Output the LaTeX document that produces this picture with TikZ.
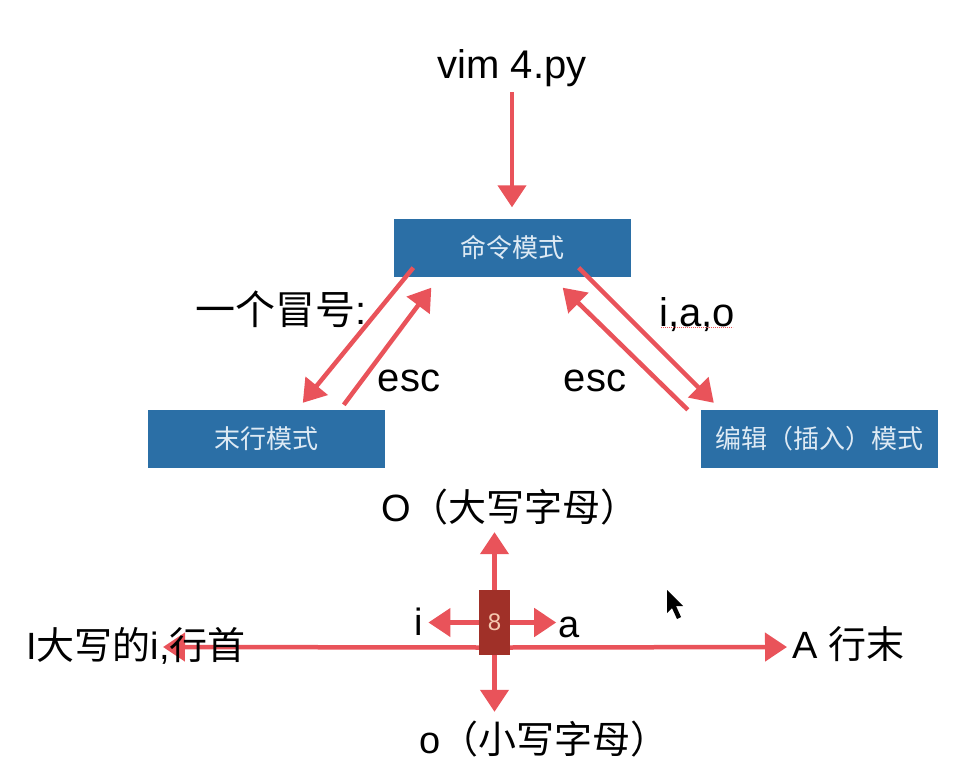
\documentclass[tikz,border=0pt]{standalone}
\usepackage{fontspec}
\setmainfont{Liberation Sans}
\newfontfamily\cjk{Noto Sans CJK SC}
\usetikzlibrary{arrows.meta,calc,backgrounds}

\definecolor{boxblue}{RGB}{43,111,166}
\definecolor{boxtext}{RGB}{222,234,244}
\definecolor{arrowred}{RGB}{233,83,90}
\definecolor{keyred}{RGB}{160,48,40}
\definecolor{keytext}{RGB}{245,200,175}

\begin{document}
\begin{tikzpicture}[x=1pt,y=-1pt,
    modebox/.style={fill=boxblue, text=boxtext, minimum width=237pt, minimum height=58pt,
        inner sep=0pt, font=\cjk\fontsize{26}{30}\selectfont},
    keybox/.style={fill=keyred, text=keytext, minimum width=31pt, minimum height=65pt,
        inner sep=0pt, font=\fontsize{24}{28}\selectfont},
    redarrow/.style={draw=arrowred, line width=4.5pt, -{Triangle[width=28pt,length=22pt]}},
    lbl/.style={inner sep=0pt, text height=31pt, text depth=9pt, font=\fontsize{40}{48}\selectfont},
    sublbl/.style={inner sep=0pt, text height=30pt, text depth=8pt, font=\fontsize{38}{46}\selectfont}]
    \useasboundingbox (0,0) rectangle (978,784);

    % Modes
    \node[lbl] (vim) at (512,68) {vim 4.py};
    \node[modebox] (cmd) at (512,247.5) {命令模式};
    \node[modebox] (last) at (266.5,439) {末行模式};
    \node[modebox] (edit) at (819.5,439) {编辑（插入）模式};

    % Labels between the modes
    \node[lbl] (colon) at (281,313) {{\cjk 一个冒号}:};
    \node[lbl] (escl) at (409,380) {esc};
    \node[lbl] (escr) at (595,380) {esc};
    \node[lbl] (iao) at (697,315) {i,a,o};
    \draw[arrowred, densely dotted, line width=1pt] ($(iao.south west)+(2,-8)$) -- ($(iao.south east)+(-2,-8)$); % spell-check underline

    % Arrows between the modes
    \draw[redarrow, shorten <=4pt, shorten >=11pt] (vim.south) -- (cmd.north);
    \draw[redarrow] ($(cmd.south west)+(20,-9)$) -- ($(last.north west)+(155,-7)$); % to last line mode
    \draw[redarrow] ($(last.north west)+(196,-5)$) -- ($(cmd.south west)+(38,11)$); % esc back
    \draw[redarrow] ($(cmd.south east)+(-52,-9)$) -- ($(edit.north west)+(13,-7)$); % to insert mode
    \draw[redarrow] ($(edit.north west)+(-13,0)$) -- ($(cmd.south east)+(-68,11)$); % esc back

    % Insert keys
    \node[keybox] (key) at (494.5,622.5) {8};
    \coordinate (lend) at (163,647);
    \node[sublbl, anchor=west] (rhead) at (792,647) {A {\cjk 行末}};
    \begin{scope}[on background layer]
        \draw[redarrow] ([yshift=-25pt]key.west) -- (lend); % line start
        \draw[redarrow, shorten >=5pt] ([yshift=-25pt]key.east) -- (rhead.west); % line end
    \end{scope}
    \node[sublbl] (lhead) at (136,648) {I{\cjk 大写的}i,{\cjk 行首}};
    \node[sublbl] (upper) at (510,510) {O{\cjk（大写字母）}};
    \node[sublbl] (lower) at (544,742) {o{\cjk（小写字母）}};
    \node[sublbl] (ilab) at (419,624) {i};
    \node[sublbl] (alab) at (569,626) {a};
    \draw[redarrow, shorten >=3pt] (key.north) -- (key.north |- upper.south);
    \draw[redarrow, shorten >=11pt] (key.south) -- (key.south |- lower.north);
    \draw[redarrow, shorten >=5pt] (key.west) -- (key.west -| ilab.east);
    \draw[redarrow, shorten >=2pt] (key.east) -- (key.east -| alab.west);

    % Mouse pointer
    \fill[black] (667,590) -- (667,613) -- (672,608) -- (677,619) -- (681,617) -- (676,606) -- (683,606) -- cycle;
\end{tikzpicture}
\end{document}
